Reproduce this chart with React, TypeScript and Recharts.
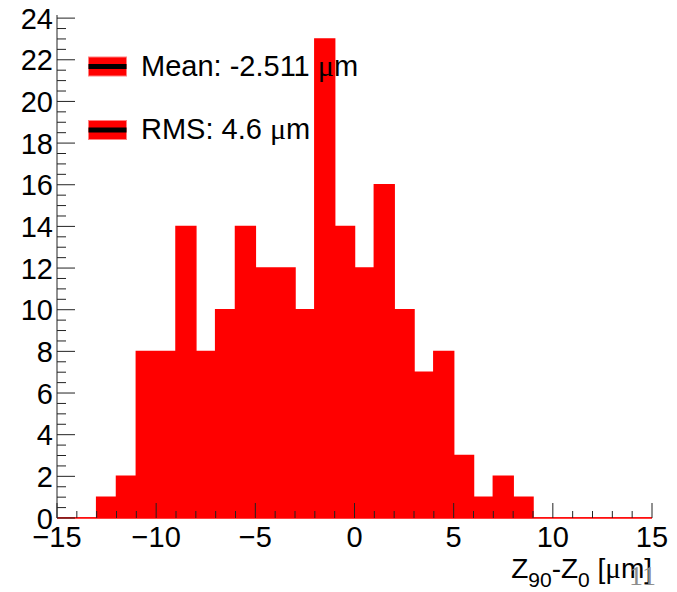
import React from 'react';
import { AreaChart, Area, XAxis, YAxis } from 'recharts';

// histogram bins (lower edges, width 1) and entries per bin
const binLow = [
  -15, -14, -13, -12, -11, -10, -9, -8, -7, -6, -5, -4, -3, -2, -1,
  0, 1, 2, 3, 4, 5, 6, 7, 8, 9, 10, 11, 12, 13, 14,
];
const counts = [
  0, 0, 1, 2, 8, 8, 14, 8, 10, 14, 12, 12, 10, 23, 14,
  12, 16, 10, 7, 8, 3, 1, 2, 1, 0, 0, 0, 0, 0, 0,
];
const binWidth = 1;

const xMajor = [-15, -10, -5, 0, 5, 10, 15];
const yMajor = [0, 2, 4, 6, 8, 10, 12, 14, 16, 18, 20, 22, 24];
const xTicks = Array.from({ length: 31 }, (_, i) => -15 + i);
const yTicks = Array.from({ length: 49 }, (_, i) => i * 0.5);

const statLabels = ['Mean: -2.511 ', 'RMS: 4.6 '];

// step data for the filled histogram
const rows = binLow.map((x, i) => ({ x, count: counts[i] }));
rows.push({ x: binLow[binLow.length - 1] + binWidth, count: counts[counts.length - 1] });

const FONT = '"Liberation Sans", Arial, Helvetica, sans-serif';
const SERIF = '"Liberation Serif", "Times New Roman", serif';
const AXIS = '#222';
const RED = '#ff0000';

const fmtX = (v: number) => (v < 0 ? '\u2212' + Math.abs(v) : String(v));

const BottomTick = ({ x, y, payload }: any) => {
  const major = xMajor.includes(payload.value);
  return (
    <g>
      <line x1={x} x2={x} y1={y} y2={y - (major ? 15 : 7)} stroke={AXIS} strokeWidth={1} />
      {major && (
        <text x={x} y={y + 29} textAnchor="middle" fontSize={29} fontFamily={FONT} fill="#000">
          {fmtX(payload.value)}
        </text>
      )}
    </g>
  );
};

const TopTick = ({ x, y, payload }: any) => {
  const major = xMajor.includes(payload.value);
  return <line x1={x} x2={x} y1={y} y2={y + (major ? 16 : 8)} stroke={AXIS} strokeWidth={1} />;
};

const LeftTick = ({ x, y, payload }: any) => {
  const major = yMajor.includes(payload.value);
  return (
    <g>
      <line x1={x} x2={x + (major ? 18 : 9)} y1={y} y2={y} stroke={AXIS} strokeWidth={1} />
      {major && (
        <text x={x - 4} y={y + 10.5} textAnchor="end" fontSize={29} fontFamily={FONT} fill="#000">
          {payload.value}
        </text>
      )}
    </g>
  );
};

const RightTick = ({ x, y, payload }: any) => {
  const major = yMajor.includes(payload.value);
  return <line x1={x} x2={x - (major ? 18 : 9)} y1={y} y2={y} stroke={AXIS} strokeWidth={1} />;
};

const Overlay = () => (
  <svg
    width={677}
    height={592}
    style={{ position: 'absolute', left: 0, top: 0, pointerEvents: 'none' }}
  >
    {statLabels.map((s, i) => {
      const top = 57 + i * 63.5;
      return (
        <g key={s}>
          <rect x={88.5} y={top} width={38} height={19} fill={RED} stroke="#ff8080" strokeWidth={1} />
          <rect x={88.5} y={top + 7} width={38} height={5} fill="#000" />
          <text x={141} y={top + 18.5} fontSize={29} fontFamily={FONT} fill="#000">
            {s}
            <tspan fontFamily={SERIF} fontSize={30}>μ</tspan>
            <tspan>m</tspan>
          </text>
        </g>
      );
    })}
    <text x={652} y={578} textAnchor="end" fontSize={28} fontFamily={FONT} fill="#000">
      Z
      <tspan fontSize={21} dy={9}>90</tspan>
      <tspan dy={-9}>-Z</tspan>
      <tspan fontSize={21} dy={9}>0</tspan>
      <tspan dy={-9}> [</tspan>
      <tspan fontFamily={SERIF} fontSize={29}>μ</tspan>
      <tspan>m]</tspan>
    </text>
    <text x={629} y={585} fontSize={28} fontFamily={SERIF} fill="#8c8c8c">
      11
    </text>
  </svg>
);

export default function App() {
  return (
    <div style={{ position: 'absolute', left: 0, top: 0, width: 677, height: 592, background: '#fff' }}>
      <AreaChart
        width={677}
        height={592}
        data={rows}
        margin={{ top: 15, right: 25, left: 0, bottom: 0 }}
      >
        <XAxis
          dataKey="x"
          type="number"
          domain={[-15, 15]}
          ticks={xTicks}
          interval={0}
          height={74}
          tickSize={0}
          tickMargin={0}
          tick={BottomTick}
          axisLine={{ stroke: RED, strokeWidth: 1.5 }}
          allowDataOverflow
        />
        <XAxis
          xAxisId="top"
          orientation="top"
          type="number"
          domain={[-15, 15]}
          ticks={xTicks}
          interval={0}
          height={0}
          tickSize={0}
          tickMargin={0}
          tick={TopTick}
          axisLine={{ stroke: AXIS }}
          allowDataOverflow
        />
        <YAxis
          type="number"
          domain={[0, 24.15]}
          ticks={yTicks}
          interval={0}
          width={57}
          tickSize={0}
          tickMargin={0}
          tick={LeftTick}
          axisLine={{ stroke: AXIS }}
          allowDataOverflow
        />
        <YAxis
          yAxisId="right"
          orientation="right"
          type="number"
          domain={[0, 24.15]}
          ticks={yTicks}
          interval={0}
          width={0}
          tickSize={0}
          tickMargin={0}
          tick={RightTick}
          axisLine={{ stroke: AXIS }}
          allowDataOverflow
        />
        <Area
          dataKey="count"
          type="stepAfter"
          fill={RED}
          fillOpacity={1}
          stroke={RED}
          strokeWidth={1.5}
          dot={false}
          activeDot={false}
          isAnimationActive={false}
        />
      </AreaChart>
      <Overlay />
    </div>
  );
}
